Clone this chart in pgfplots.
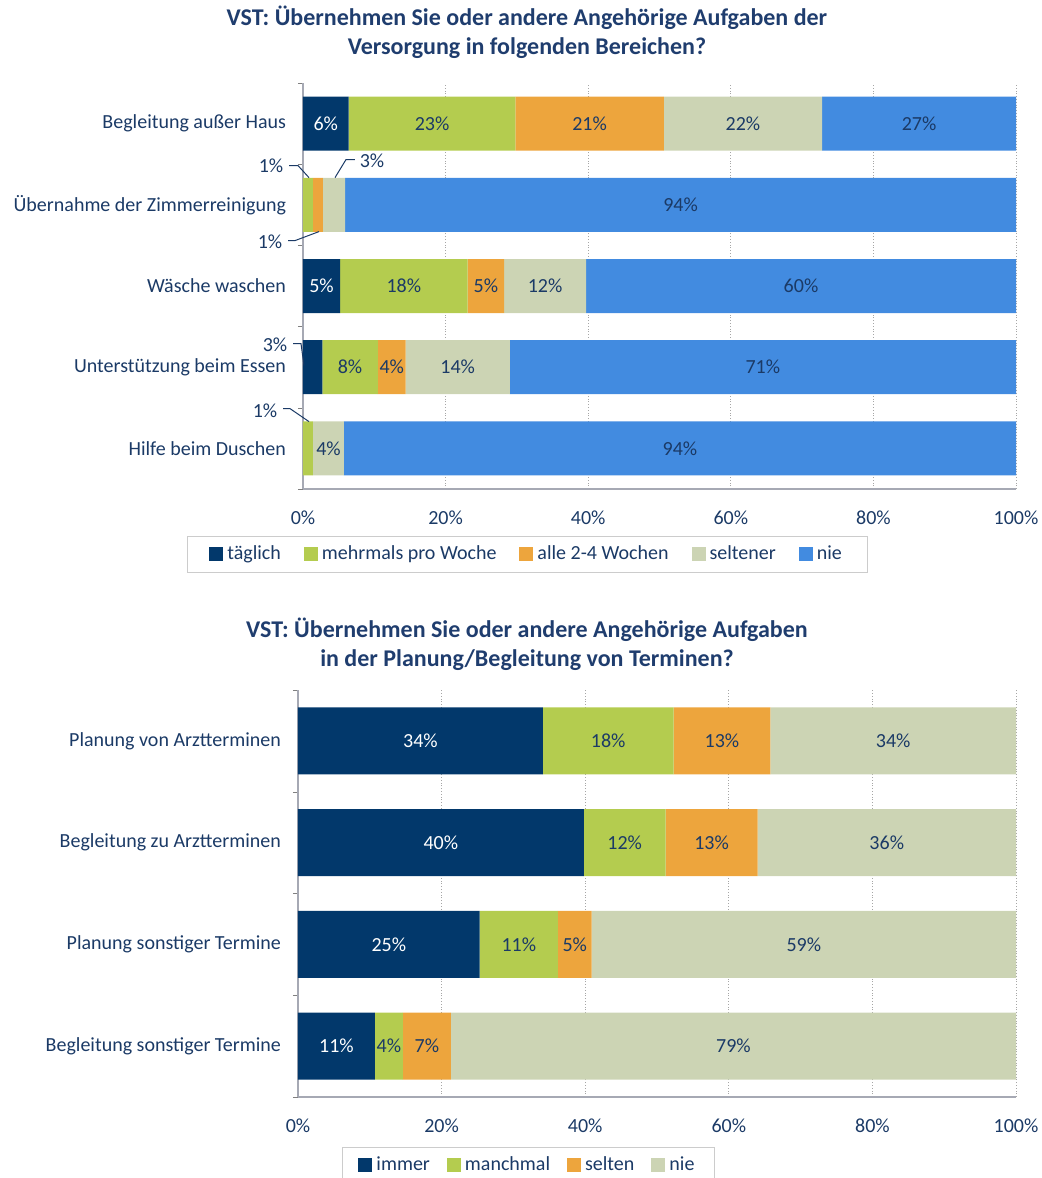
\documentclass[border=0pt]{standalone}
\usepackage{pgfplots}
\pgfplotsset{compat=1.18}
\usepackage{fontspec}
\setmainfont{Carlito}
\definecolor{cNavy}{HTML}{02386B}
\definecolor{cGreen}{HTML}{B4CC4F}
\definecolor{cOrange}{HTML}{EDA53D}
\definecolor{cBeige}{HTML}{CCD4B4}
\definecolor{cBlue}{HTML}{428BE0}
\definecolor{cText}{HTML}{1B3A66}
\definecolor{cTitle}{HTML}{1F3D6E}
\definecolor{cAxis}{HTML}{A6A9B4}
\newcommand{\lf}{\fontsize{10}{12}\selectfont}
\newcommand{\tf}{\bfseries\fontsize{12}{14.5}\selectfont}
\tikzset{lab/.style={font=\lf, text=cText}, wlab/.style={font=\lf, text=white}, lead/.style={draw=cText, line width=0.5pt}}
\pgfplotsset{
  mystyle/.style={
    scale only axis,
    xbar stacked,
    xmin=0, xmax=100,
    xtick={0,20,...,100},
    xticklabels={0\%,20\%,40\%,60\%,80\%,100\%},
    xmajorgrids,
    major grid style={densely dotted, gray!70},
    axis x line*=bottom, axis y line*=left,
    axis line style={draw=cAxis, line width=0.8pt},
    tick align=outside,
    major tick length=0pt,
    minor tick length=2.5pt,
    tick label style={font=\lf, text=cText},
    xticklabel style={yshift=-7.5pt},
    yticklabel style={xshift=-5pt},
    clip=false,
  },
}
\begin{document}
\begin{tikzpicture}
\path[use as bounding box] (0pt,0pt) rectangle (520.5pt,-589pt);
\node[font=\tf, text=cTitle, align=center] at (263.5pt,-16.25pt) {VST: Übernehmen Sie oder andere Angehörige Aufgaben der\\Versorgung in folgenden Bereichen?};
\begin{axis}[mystyle,
  at={(151.5pt,-244.5pt)}, anchor=south west,
  width=356.5pt, height=203pt,
  bar width=27pt,
  ymin=-0.5, ymax=4.5,
  ytick={0,...,4},
  yticklabels={Hilfe beim Duschen,Unterstützung beim Essen,Wäsche waschen,Übernahme der Zimmerreinigung,Begleitung außer Haus},
  minor ytick={-0.5,0.5,...,4.5},
  legend style={at={(0.315,-0.161)}, anchor=center, legend columns=5, draw=gray!40, font=\lf, text=cText, inner xsep=11pt, inner ysep=3pt, /tikz/every even column/.append style={column sep=9.5pt}},
  legend image code/.code={\path[#1,draw=none] (0pt,-3.5pt) rectangle (7pt,3.5pt);},
  after end axis/.code={
    \node[wlab] at (axis cs:3.2,4) {6\%};
    \node[lab] at (axis cs:18.1,4) {23\%};
    \node[lab] at (axis cs:40.2,4) {21\%};
    \node[lab] at (axis cs:61.7,4) {22\%};
    \node[lab] at (axis cs:86.4,4) {27\%};
    \node[lab] at (axis cs:52.95,3) {94\%};
    \node[wlab] at (axis cs:2.6,2) {5\%};
    \node[lab] at (axis cs:14.15,2) {18\%};
    \node[lab] at (axis cs:25.65,2) {5\%};
    \node[lab] at (axis cs:33.95,2) {12\%};
    \node[lab] at (axis cs:69.85,2) {60\%};
    \node[lab] at (axis cs:6.6,1) {8\%};
    \node[lab] at (axis cs:12.45,1) {4\%};
    \node[lab] at (axis cs:21.7,1) {14\%};
    \node[lab] at (axis cs:64.5,1) {71\%};
    \node[lab] at (axis cs:3.575,0) {4\%};
    \node[lab] at (axis cs:52.875,0) {94\%};
    \node[lab] at (axis cs:-4.49,3.483) {1\%};
    \draw[lead] (axis cs:-1.96,3.483) -- (axis cs:-0.70,3.483) -- (axis cs:0.84,3.335);
    \node[lab] at (axis cs:9.68,3.544) {3\%};
    \draw[lead] (axis cs:7.29,3.557) -- (axis cs:6.03,3.557) -- (axis cs:4.49,3.335);
    \node[lab] at (axis cs:-4.63,2.547) {1\%};
    \draw[lead] (axis cs:-2.10,2.559) -- (axis cs:-1.12,2.559) -- (axis cs:2.24,2.670);
    \node[lab] at (axis cs:-3.93,1.278) {3\%};
    \draw[lead] (axis cs:-1.40,1.291) -- (axis cs:-0.28,1.291) -- (axis cs:0.14,1.02);
    \node[lab] at (axis cs:-5.33,0.466) {1\%};
    \draw[lead] (axis cs:-2.80,0.49) -- (axis cs:-1.82,0.49) -- (axis cs:0.84,0.33);
  },
]
\addplot[fill=cNavy, draw=none] coordinates {(6.4,4) (0,3) (5.2,2) (2.7,1) (0,0)};
\addplot[fill=cGreen, draw=none] coordinates {(23.4,4) (1.4,3) (17.9,2) (7.8,1) (1.4,0)};
\addplot[fill=cOrange, draw=none] coordinates {(20.8,4) (1.4,3) (5.1,2) (3.9,1) (0,0)};
\addplot[fill=cBeige, draw=none] coordinates {(22.2,4) (3.1,3) (11.5,2) (14.6,1) (4.35,0)};
\addplot[fill=cBlue, draw=none] coordinates {(27.2,4) (94.1,3) (60.3,2) (71.0,1) (94.25,0)};
\legend{täglich,mehrmals pro Woche,alle 2-4 Wochen,seltener,nie}
\end{axis}

\node[font=\tf, text=cTitle, align=center] at (263.5pt,-322pt) {VST: Übernehmen Sie oder andere Angehörige Aufgaben\\in der Planung/Begleitung von Terminen?};
\begin{axis}[mystyle,
  at={(149pt,-548.5pt)}, anchor=south west,
  width=359pt, height=203.5pt,
  bar width=33.5pt,
  ymin=-0.5, ymax=3.5,
  ytick={0,...,3},
  yticklabels={Begleitung sonstiger Termine,Planung sonstiger Termine,Begleitung zu Arztterminen,Planung von Arztterminen},
  minor ytick={-0.5,0.5,...,3.5},
  legend style={at={(0.321,-0.168)}, anchor=center, legend columns=4, draw=gray!40, font=\lf, text=cText, inner xsep=8pt, inner ysep=3pt, /tikz/every even column/.append style={column sep=6.5pt}},
  legend image code/.code={\path[#1,draw=none] (0pt,-3.5pt) rectangle (7pt,3.5pt);},
  after end axis/.code={
    \node[wlab] at (axis cs:17.05,3) {34\%};
    \node[lab] at (axis cs:43.2,3) {18\%};
    \node[lab] at (axis cs:59.05,3) {13\%};
    \node[lab] at (axis cs:82.9,3) {34\%};
    \node[wlab] at (axis cs:19.9,2) {40\%};
    \node[lab] at (axis cs:45.5,2) {12\%};
    \node[lab] at (axis cs:57.6,2) {13\%};
    \node[lab] at (axis cs:82,2) {36\%};
    \node[wlab] at (axis cs:12.65,1) {25\%};
    \node[lab] at (axis cs:30.75,1) {11\%};
    \node[lab] at (axis cs:38.55,1) {5\%};
    \node[lab] at (axis cs:70.45,1) {59\%};
    \node[wlab] at (axis cs:5.35,0) {11\%};
    \node[lab] at (axis cs:12.65,0) {4\%};
    \node[lab] at (axis cs:17.95,0) {7\%};
    \node[lab] at (axis cs:60.65,0) {79\%};
  },
]
\addplot[fill=cNavy, draw=none] coordinates {(34.1,3) (39.8,2) (25.3,1) (10.7,0)};
\addplot[fill=cGreen, draw=none] coordinates {(18.2,3) (11.4,2) (10.9,1) (3.9,0)};
\addplot[fill=cOrange, draw=none] coordinates {(13.5,3) (12.8,2) (4.7,1) (6.7,0)};
\addplot[fill=cBeige, draw=none] coordinates {(34.2,3) (36.0,2) (59.1,1) (78.7,0)};
\legend{immer,manchmal,selten,nie}
\end{axis}
\end{tikzpicture}
\end{document}
